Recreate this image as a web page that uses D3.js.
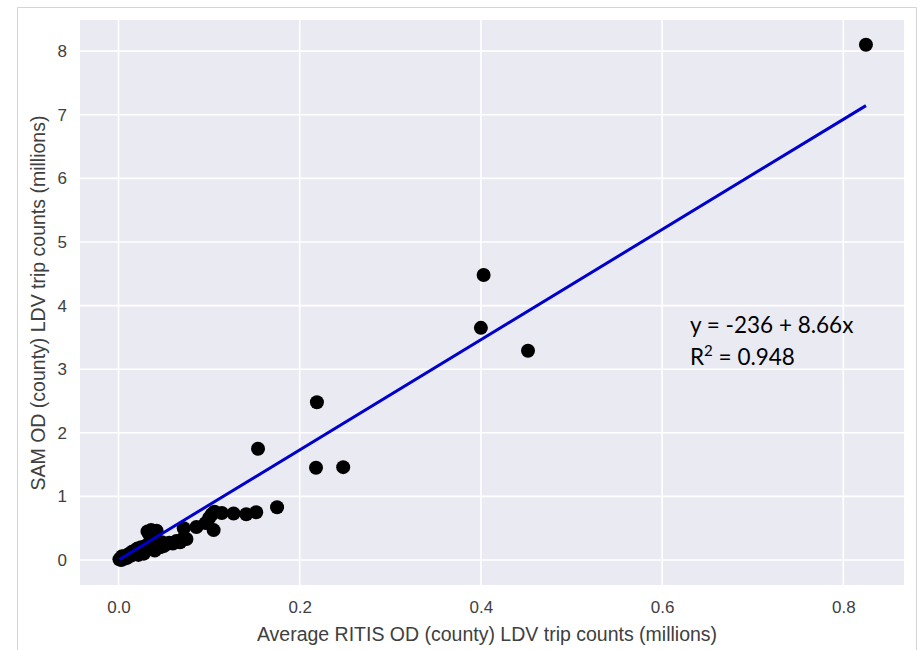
<!DOCTYPE html>
<html>
<head>
<meta charset="utf-8">
<script src="https://cdn.jsdelivr.net/npm/d3@7"></script>
<style>
  html, body { margin: 0; padding: 0; background: #ffffff; }
  svg { display: block; }
</style>
</head>
<body>
<svg id="chart" width="922" height="650"></svg>
<script>
// County-level LDV trip counts, millions: RITIS OD average (x) vs SAM OD (y)
const ritisTrips = [
  0.001, 0.002, 0.003, 0.004, 0.005, 0.006, 0.007, 0.008, 0.010, 0.011,
  0.012, 0.014, 0.015, 0.017, 0.018, 0.020, 0.021, 0.023, 0.025, 0.026,
  0.028, 0.030, 0.031, 0.033, 0.035, 0.036, 0.038, 0.040, 0.042, 0.044,
  0.046, 0.048, 0.050, 0.053, 0.056, 0.060, 0.064, 0.068, 0.072, 0.075,
  0.032, 0.036, 0.042, 0.034, 0.072, 0.086, 0.096, 0.100, 0.103, 0.105,
  0.106, 0.114, 0.127, 0.141, 0.152, 0.175, 0.154, 0.218, 0.219, 0.248,
  0.400, 0.403, 0.452, 0.825, 0.004, 0.009, 0.016, 0.022, 0.027, 0.040
];
const samTrips = [
  0.01, 0.02, 0.00, 0.03, 0.05, 0.02, 0.06, 0.04, 0.08, 0.05,
  0.10, 0.07, 0.13, 0.09, 0.15, 0.12, 0.18, 0.14, 0.20, 0.16,
  0.10, 0.22, 0.17, 0.25, 0.20, 0.28, 0.23, 0.30, 0.18, 0.25,
  0.20, 0.28, 0.22, 0.25, 0.27, 0.26, 0.30, 0.28, 0.35, 0.33,
  0.45, 0.47, 0.46, 0.40, 0.50, 0.52, 0.58, 0.66, 0.72, 0.47,
  0.76, 0.74, 0.73, 0.72, 0.75, 0.83, 1.75, 1.45, 2.48, 1.46,
  3.65, 4.48, 3.29, 8.10, 0.06, 0.03, 0.11, 0.08, 0.13, 0.15
];

// Least-squares fit reported on the chart (trip counts in raw units)
const fitIntercept = -236;
const fitSlope = 8.66;
const fitR2 = 0.948;

const xTicks = [0.0, 0.2, 0.4, 0.6, 0.8];
const yTicks = [0, 1, 2, 3, 4, 5, 6, 7, 8];

const xTitle = "Average RITIS OD (county) LDV trip counts (millions)";
const yTitle = "SAM OD (county) LDV trip counts (millions)";

const svg = d3.select("#chart");

// outer figure frame
svg.append("path")
  .attr("d", "M17.5,650 V7.5 H916.5 V650")
  .attr("fill", "none")
  .attr("stroke", "#d4d4d4")
  .attr("stroke-width", 1);

const plot = { left: 80, right: 904, top: 20, bottom: 585 };

const x = d3.scaleLinear().domain([-0.0425, 0.867]).range([plot.left, plot.right]);
const y = d3.scaleLinear().domain([-0.393, 8.49]).range([plot.bottom, plot.top]);

// darkgrid background
svg.append("rect")
  .attr("x", plot.left).attr("y", plot.top)
  .attr("width", plot.right - plot.left)
  .attr("height", plot.bottom - plot.top)
  .attr("fill", "#eaeaf2");

// gridlines
const grid = svg.append("g").attr("stroke", "#ffffff").attr("stroke-width", 1.6);
grid.selectAll("line.vx").data(xTicks).join("line")
  .attr("x1", d => x(d)).attr("x2", d => x(d))
  .attr("y1", plot.top).attr("y2", plot.bottom);
grid.selectAll("line.hy").data(yTicks).join("line")
  .attr("x1", plot.left).attr("x2", plot.right)
  .attr("y1", d => y(d)).attr("y2", d => y(d));

// axes (labels only, no domain line or tick marks)
const tickFont = "'Liberation Sans', Arial, sans-serif";
const labelColor = "#404040";
const xAxis = svg.append("g")
  .attr("transform", `translate(0,${plot.bottom})`)
  .call(d3.axisBottom(x).tickValues(xTicks).tickFormat(d3.format(".1f")).tickSize(0).tickPadding(16));
const yAxis = svg.append("g")
  .attr("transform", `translate(${plot.left},0)`)
  .call(d3.axisLeft(y).tickValues(yTicks).tickFormat(d3.format("d")).tickSize(0).tickPadding(13));
[xAxis, yAxis].forEach(g => {
  g.select(".domain").remove();
  g.selectAll("text")
    .attr("fill", labelColor)
    .style("font-family", tickFont)
    .style("font-size", "17px");
});

// axis titles
svg.append("text")
  .attr("x", 487)
  .attr("y", 641)
  .attr("text-anchor", "middle")
  .attr("fill", labelColor)
  .style("font-family", tickFont)
  .style("font-size", "19.5px")
  .text(xTitle);
svg.append("text")
  .attr("transform", `translate(45,303) rotate(-90)`)
  .attr("text-anchor", "middle")
  .attr("fill", labelColor)
  .style("font-family", tickFont)
  .style("font-size", "19.5px")
  .text(yTitle);

// scatter points
const points = ritisTrips.map((v, i) => ({ x: v, y: samTrips[i] }));
svg.append("g").selectAll("circle").data(points).join("circle")
  .attr("cx", d => x(d.x))
  .attr("cy", d => y(d.y))
  .attr("r", 7)
  .attr("fill", "#000000");

// fitted line over the x range of the data (convert intercept to millions)
const xMin = d3.min(ritisTrips), xMax = d3.max(ritisTrips);
const fitY = v => fitIntercept / 1e6 + fitSlope * v;
svg.append("line")
  .attr("x1", x(xMin)).attr("y1", y(fitY(xMin)))
  .attr("x2", x(xMax)).attr("y2", y(fitY(xMax)))
  .attr("stroke", "#0000cc")
  .attr("stroke-width", 3);

// fit annotation
const noteFont = "Lato, 'Open Sans', sans-serif";
svg.append("text")
  .attr("x", 690).attr("y", 333)
  .attr("fill", "#000")
  .style("font-family", noteFont)
  .style("font-size", "22.5px")
  .text(`y = ${fitIntercept} + ${fitSlope}x`);
const r2 = svg.append("text")
  .attr("x", 690).attr("y", 365)
  .attr("fill", "#000")
  .style("font-family", noteFont)
  .style("font-size", "22.5px");
r2.append("tspan").text("R");
r2.append("tspan").attr("dy", -9).style("font-size", "15px").text("2");
r2.append("tspan").attr("dy", 9).text(` = ${fitR2}`);
</script>
</body>
</html>
